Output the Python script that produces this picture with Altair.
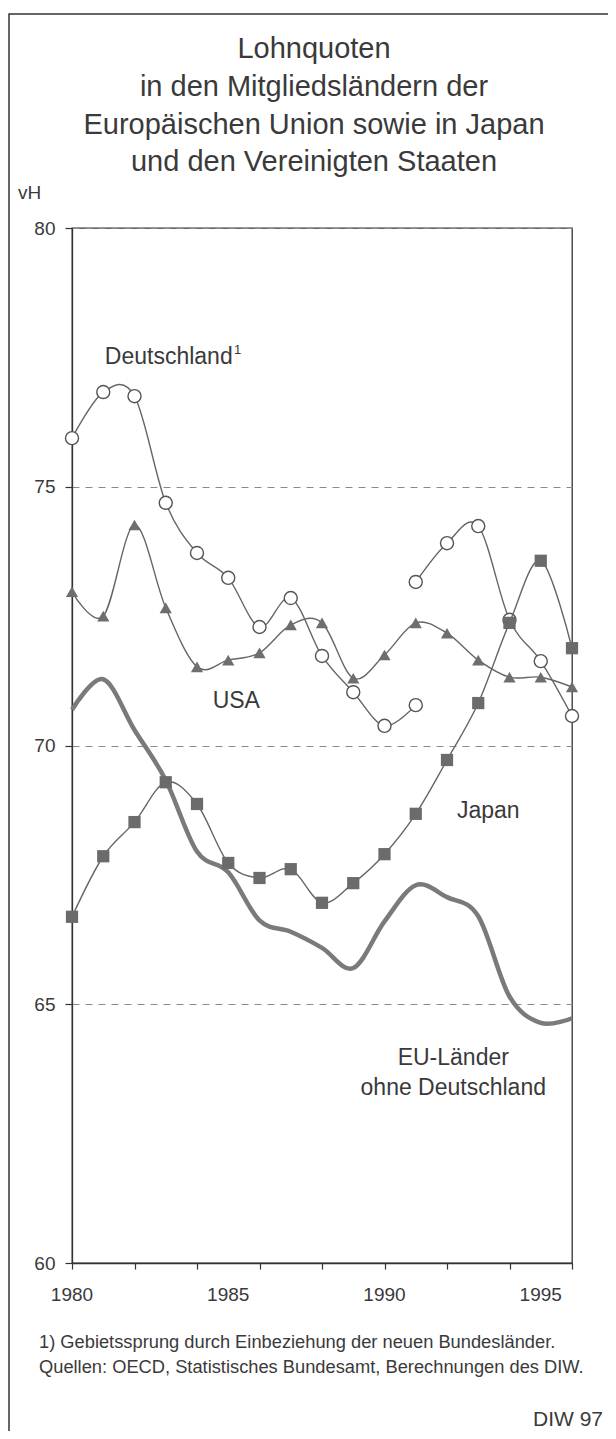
import altair as alt
import pandas as pd

FONT = "Liberation Sans"
TXT = "#3a3a3a"

years = list(range(1980, 1997))
tick_years = list(range(1980, 1997, 2))
label_years = [1980, 1985, 1990, 1995]
# Deutschland (früheres Bundesgebiet) 1980-1991, then Deutschland gesamt 1991-1996
de_years_a = list(range(1980, 1992))
de_values_a = [75.94, 76.83, 76.75, 74.69, 73.72, 73.24, 72.29, 72.85, 71.73, 71.03, 70.38, 70.78]
de_years_b = list(range(1991, 1997))
de_values_b = [73.16, 73.91, 74.24, 72.43, 71.63, 70.57]
usa = [72.97, 72.50, 74.26, 72.66, 71.52, 71.65, 71.79, 72.33, 72.37, 71.30, 71.75, 72.37,
       72.17, 71.65, 71.32, 71.32, 71.13]
japan = [66.69, 67.86, 68.52, 69.29, 68.87, 67.73, 67.44, 67.61, 66.96, 67.34, 67.90, 68.68,
         69.72, 70.82, 72.37, 73.57, 71.88]
eu = [70.69, 71.28, 70.30, 69.33, 67.95, 67.55, 66.62, 66.40, 66.09, 65.70, 66.60, 67.30,
      67.07, 66.70, 65.15, 64.64, 64.73]

title_lines = ["Lohnquoten", "in den Mitgliedsländern der",
               "Europäischen Union sowie in Japan", "und den Vereinigten Staaten"]
footnotes = ["1) Gebietssprung durch Einbeziehung der neuen Bundesländer.",
             "Quellen: OECD, Statistisches Bundesamt, Berechnungen des DIW."]

rows = []
for y_, v in zip(de_years_a, de_values_a):
    rows.append({"year": y_, "value": v, "series": "DE", "seg": "a"})
for y_, v in zip(de_years_b, de_values_b):
    rows.append({"year": y_, "value": v, "series": "DE", "seg": "b"})
for y_, v in zip(years, usa):
    rows.append({"year": y_, "value": v, "series": "USA", "seg": "u"})
for y_, v in zip(years, japan):
    rows.append({"year": y_, "value": v, "series": "JP", "seg": "j"})
for y_, v in zip(years, eu):
    rows.append({"year": y_, "value": v, "series": "EU", "seg": "e"})
df = pd.DataFrame(rows)

xaxis = alt.Axis(
    values=tick_years, labels=False, grid=False, title=None, tickSize=6,
    domainColor="#333", tickColor="#333", domainWidth=1.3, tickWidth=1.2,
)
xscale = alt.Scale(domain=[1980, 1996], nice=False, zero=False)
xenc = alt.X("year:Q", scale=xscale, axis=xaxis)
yenc = alt.Y(
    "value:Q",
    scale=alt.Scale(domain=[60, 80], nice=False, zero=False),
    axis=alt.Axis(
        values=[60, 65, 70, 75, 80], title=None, grid=True, gridDash=[7, 6],
        gridColor="#8a8a8a", gridWidth=1, tickSize=7, labelPadding=10,
        labelFontSize=19, labelFont=FONT, labelColor=TXT, domainColor="#333",
        tickColor="#333", domainWidth=1.3, tickWidth=1.2,
    ),
)

base = alt.Chart(df).encode(x=xenc, y=yenc)

eu_line = base.transform_filter("datum.series === 'EU'").mark_line(
    interpolate="cardinal", color="#7a7a7a", strokeWidth=4.5)
us_line = base.transform_filter("datum.series === 'USA'").mark_line(
    interpolate="cardinal", color="#666666", strokeWidth=1.4)
us_pts = base.transform_filter("datum.series === 'USA'").mark_point(
    shape="triangle-up", filled=True, size=150, color="#6e6e6e", opacity=1)
de_line = base.transform_filter("datum.series === 'DE'").mark_line(
    interpolate="cardinal", color="#666666", strokeWidth=1.4).encode(detail="seg:N")
de_pts = base.transform_filter("datum.series === 'DE'").mark_point(
    shape="circle", filled=True, size=170, fill="white", stroke="#555555",
    strokeWidth=1.4, opacity=1)
jp_line = base.transform_filter("datum.series === 'JP'").mark_line(
    interpolate="cardinal", color="#666666", strokeWidth=1.4)
jp_pts = base.transform_filter("datum.series === 'JP'").mark_point(
    shape="square", filled=True, size=150, color="#6b6b6b", opacity=1)

# x tick labels (every 5 years) drawn through the shared x scale
xlabels = alt.Chart(pd.DataFrame({"year": label_years})).mark_text(
    font=FONT, fontSize=19, color=TXT, align="center", baseline="middle"
).encode(x=xenc, y=alt.value(1067), text=alt.Text("year:Q", format="d"))

one = pd.DataFrame({"k": [0]})


def label(text, xv, yv, size=23, align="left", baseline="middle", **kw):
    return alt.Chart(one).mark_text(
        text=text, font=FONT, fontSize=size, color=TXT, align=align, baseline=baseline, **kw
    ).encode(x=alt.datum(xv), y=alt.datum(yv))


def ptext(text, xp, yp, size, align="left", baseline="middle"):
    return alt.Chart(one).mark_text(
        text=text, font=FONT, fontSize=size, color=TXT, align=align, baseline=baseline
    ).encode(x=alt.value(xp), y=alt.value(yp))


labels = [
    label("Deutschland", 1981.05, 77.5),
    label("1", 1985.18, 77.64, size=13),
    label("USA", 1984.5, 70.86),
    label("Japan", 1992.32, 68.73),
    label(["EU-Länder", "ohne Deutschland"], 1992.2, 64.25, align="center",
          lineHeight=30, dy=15),
]

title_y = [-179, -141, -103, -66]
titles = [ptext(t, 242, yy, 29, align="center") for t, yy in zip(title_lines, title_y)]

texts = titles + [
    ptext("vH", -54, -35, 19),
    ptext(footnotes[0], -33, 1115, 18.3),
    ptext(footnotes[1], -33, 1140, 18.3),
    ptext("DIW 97", 531, 1192, 21, align="right"),
]

frame = alt.Chart(one).mark_rect(filled=False, stroke="#333333", strokeWidth=1.5).encode(
    x=alt.value(-63), x2=alt.value(700), y=alt.value(-214), y2=alt.value(1500))

chart = alt.layer(
    eu_line, us_line, us_pts, de_line, de_pts, jp_line, jp_pts, xlabels, *labels, *texts, frame
).properties(
    width=500, height=1035,
    autosize=alt.AutoSizeParams(type="none"),
    padding={"left": 64, "top": 220, "right": 36, "bottom": 168},
    background="white",
).configure_view(stroke="#333333", strokeWidth=1.3)

chart.save("out.html", embed_options={"renderer": "svg", "actions": False})
